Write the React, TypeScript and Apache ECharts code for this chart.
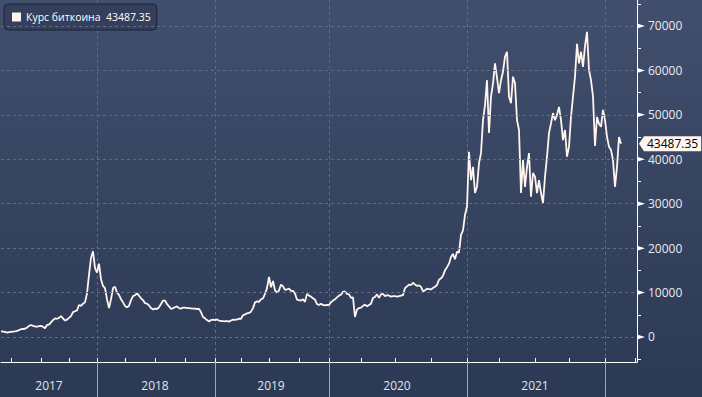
import React, { useEffect, useRef } from 'react';
import * as echarts from 'echarts';

const seriesName = 'Курс биткоина';
const yearLabels = ['2017', '2018', '2019', '2020', '2021'];
const yTickValues = [-5000, 0, 5000, 10000, 15000, 20000, 25000, 30000, 35000, 40000, 45000, 50000, 55000, 60000, 65000, 70000, 75000];
const yLabelValues = [0, 10000, 20000, 30000, 40000, 50000, 60000, 70000];

// sample groups (start dates of each group; last entry closes the final group)
const groupStarts = [
  '2017-03-01', '2017-04-01', '2017-07-01', '2017-10-01',
  '2018-01-01', '2018-04-01', '2018-07-01', '2018-10-01',
  '2019-01-01', '2019-04-01', '2019-07-01', '2019-10-01',
  '2020-01-01', '2020-04-01', '2020-07-01', '2020-10-01',
  '2021-01-01', '2021-04-01', '2021-07-01', '2021-10-01',
  '2022-01-01', '2022-04-01', '2022-04-05',
];

const m2017_03 = [1250, 1230, 1150, 1000, 1100];
const q2017_2 = [1150, 1200, 1250, 1350, 1550, 1750, 1800, 1850, 2100, 2500, 2700, 2500, 2400, 2300, 2450];
const q2017_3 = [2500, 2300, 1950, 2700, 2800, 3300, 3800, 4200, 4100, 4300, 4700, 4200, 3700, 3900];
const q2017_4 = [4300, 4700, 5600, 5800, 6000, 7200, 7000, 7500, 7800, 9800, 14000, 17800, 19300, 15500];
const q2018_1 = [14500, 16500, 13000, 11500, 11000, 8500, 6500, 8500, 11000, 11300, 10000, 9500, 8500, 7800];
const q2018_2 = [7000, 6700, 7000, 8300, 9200, 9400, 9800, 9300, 8700, 8300, 7600, 7500, 7100, 6500, 6200];
const q2018_3 = [6400, 6300, 6700, 7400, 8200, 8200, 7400, 6900, 6300, 6500, 6700, 6900, 6500, 6400, 6600];
const q2018_4 = [6600, 6500, 6500, 6450, 6400, 6400, 6300, 6350, 5600, 4500, 4200, 3800, 3500, 3800, 3900];
const q2019_1 = [3800, 3950, 3700, 3600, 3550, 3500, 3600, 3450, 3700, 3900, 3850, 3950, 4100];
const q2019_2 = [4100, 4900, 5100, 5300, 5400, 5700, 6500, 7800, 8000, 7900, 8500, 8700, 9700, 11000];
const q2019_3 = [13500, 11200, 12600, 10500, 10000, 10500, 11800, 11400, 10600, 10700, 10900, 10400, 10400, 9800, 8400];
const q2019_4 = [8300, 8200, 8500, 7900, 9700, 9300, 9100, 8700, 8400, 7400, 7200, 7500, 7200, 7100, 7200];
const q2020_1 = [7200, 7800, 8200, 8500, 8900, 9300, 9500, 10200, 10200, 9700, 9600, 8800, 8900, 4500, 6200, 6500];
const q2020_2 = [6600, 7000, 7300, 6900, 7200, 7500, 8800, 9000, 9600, 8800, 9600, 9700, 9200, 9400, 9300, 9100, 9200];
const q2020_3 = [9200, 9100, 9200, 9300, 9400, 11000, 11400, 11800, 11700, 12200, 11800, 11500, 11600, 11300, 10300, 10500, 10900, 10800];
const q2020_4 = [10700, 11000, 11300, 11700, 12900, 13200, 13800, 15000, 15700, 16500, 18000, 18700, 17500, 19200, 19000, 23000, 24000, 27500];
const q2021_1 = [29300, 41700, 35300, 38300, 32400, 33800, 39100, 41400, 48800, 52200, 57800, 45900, 54100, 57100, 61600, 58300];
const q2021_2 = [54900, 57800, 59700, 63100, 64200, 54100, 52600, 58600, 57100, 48800, 46600, 32400, 39800, 33800, 38300, 41400, 31600, 36900];
const q2021_3 = [36100, 32400, 35300, 32400, 30100, 36100, 40600, 45900, 48100, 50400, 48800, 50000, 51800, 48800, 44300, 46600, 40600];
const q2021_4 = [42800, 49600, 54100, 58600, 66000, 61600, 64200, 60800, 65500, 68700, 60100, 57800, 54100, 43000, 49500, 48000, 47300, 51100];
const q2022_1 = [48800, 45100, 42800, 42100, 39800, 33800, 38300, 45000, 43487.35, null, null, null, null, null, null];
const m2022_04 = [null, null];

const groups: (number | null)[][] = [
  m2017_03, q2017_2, q2017_3, q2017_4,
  q2018_1, q2018_2, q2018_3, q2018_4,
  q2019_1, q2019_2, q2019_3, q2019_4,
  q2020_1, q2020_2, q2020_3, q2020_4,
  q2021_1, q2021_2, q2021_3, q2021_4,
  q2022_1, m2022_04,
];

const categories: string[] = [];
const values: (number | null)[] = [];
groups.forEach((g, gi) => {
  const s = Date.parse(groupStarts[gi]);
  const e = Date.parse(groupStarts[gi + 1]);
  g.forEach((v, i) => {
    categories.push(new Date(s + ((e - s) * i) / g.length).toISOString().slice(0, 10));
    values.push(v);
  });
});

const lastValue = (() => {
  for (let i = values.length - 1; i >= 0; i--) if (values[i] != null) return values[i] as number;
  return 0;
})();

const yearOf = (s: string) => s.slice(0, 4);
const quarterOf = (s: string) => s.slice(0, 4) + Math.floor((+s.slice(5, 7) - 1) / 3);
const isYearStart = (i: number) => i > 0 && yearOf(categories[i]) !== yearOf(categories[i - 1]);
const isQuarterStart = (i: number) => i > 0 && quarterOf(categories[i]) !== quarterOf(categories[i - 1]);
const yearLabelIndex = new Set<number>();
yearLabels.forEach((y) => {
  let first = -1, last = -1;
  categories.forEach((c, i) => {
    if (yearOf(c) === y) { if (first < 0) first = i; last = i; }
  });
  if (first >= 0) yearLabelIndex.add(Math.round((first + last) / 2));
});

const svgUrl = (s: string) => 'data:image/svg+xml;charset=utf-8,' + encodeURIComponent(s);
const arrowRight = svgUrl('<svg xmlns="http://www.w3.org/2000/svg" width="8" height="5"><polygon points="0,0 8,2.5 0,5" fill="#ffffff"/></svg>');
const arrowLeft = svgUrl('<svg xmlns="http://www.w3.org/2000/svg" width="5" height="15"><polygon points="0,7.5 5,0 5,15" fill="#fff6f0"/></svg>');

const FONT = 'Open Sans';
const LINE_COLOR = '#fff4ee';

export default function App() {
  const ref = useRef<HTMLDivElement>(null);
  useEffect(() => {
    if (!ref.current) return;
    const chart = echarts.init(ref.current, undefined, { renderer: 'svg' });
    chart.setOption({
      animation: false,
      backgroundColor: 'transparent',
      textStyle: { fontFamily: FONT },
      grid: { left: 1, right: 65, top: 0, bottom: 35, containLabel: false, outerBoundsMode: 'none' },
      legend: {
        left: 4,
        top: 4,
        data: [{ name: seriesName, icon: 'rect' }],
        itemWidth: 9,
        itemHeight: 9,
        padding: [6, 6, 6, 8],
        backgroundColor: '#333f5c',
        borderColor: '#1b2233',
        borderWidth: 1,
        borderRadius: 4,
        selectedMode: false,
        textStyle: { color: '#ffffff', fontSize: 10.5, fontFamily: FONT, lineHeight: 14 },
        formatter: (n: string) => `${n}  ${lastValue}`,
      },
      xAxis: [
        {
          type: 'category',
          data: categories,
          boundaryGap: false,
          position: 'bottom',
          axisLine: { onZero: false, lineStyle: { color: '#ffffff', width: 1 } },
          axisTick: { interval: (i: number) => isYearStart(i), length: 35, lineStyle: { color: '#9ea6b6' } },
          axisLabel: {
            interval: (i: number) => yearLabelIndex.has(i),
            formatter: (v: string) => yearOf(v),
            margin: 17,
            color: '#e1e5ec',
            fontSize: 12,
            fontFamily: FONT,
          },
          splitLine: { show: true, interval: (i: number) => isYearStart(i), lineStyle: { color: '#5c6d8d', type: [3, 3], width: 1 } },
        },
        {
          type: 'category',
          data: categories,
          boundaryGap: false,
          position: 'bottom',
          axisLine: { show: false, onZero: false },
          axisTick: { inside: true, length: 4, interval: (i: number) => isQuarterStart(i), lineStyle: { color: '#ffffff' } },
          axisLabel: { show: false },
          splitLine: { show: false },
        },
      ],
      yAxis: {
        type: 'value',
        position: 'right',
        min: -5630,
        max: 75850,
        axisLine: { show: true, lineStyle: { color: '#ffffff', width: 1 } },
        axisTick: { show: true, customValues: yTickValues, length: 4, lineStyle: { color: '#ffffff' } },
        axisLabel: {
          customValues: yLabelValues,
          margin: 0,
          formatter: (v: number) => `{a| }{b|${v}}`,
          rich: {
            a: { width: 8, height: 5, verticalAlign: 'middle', backgroundColor: { image: arrowRight } },
            b: { color: '#e8ebf1', fontSize: 12, fontFamily: FONT, padding: [0, 0, 0, 3], verticalAlign: 'middle' },
          },
        },
        splitLine: { show: false },
      },
      series: [
        {
          name: seriesName,
          type: 'line',
          xAxisIndex: 0,
          yAxisIndex: 0,
          data: values,
          symbol: 'none',
          showSymbol: false,
          connectNulls: false,
          lineStyle: { color: LINE_COLOR, width: 1.8 },
          itemStyle: { color: LINE_COLOR },
          markLine: {
            silent: true,
            symbol: ['none', 'none'],
            animation: false,
            data: [
              ...yLabelValues.map((v) => ({
                yAxis: v,
                label: { show: false },
                lineStyle: { color: '#5c6d8d', type: [3, 3], width: 1 },
              })),
              {
                yAxis: lastValue,
                lineStyle: { color: 'rgba(0,0,0,0)', width: 1, opacity: 1 },
                label: {
                  show: true,
                  position: 'end',
                  distance: 2,
                  opacity: 1,
                  formatter: `{a| }{b|${lastValue}}`,
                  rich: {
                    a: { width: 5, height: 15, verticalAlign: 'middle', backgroundColor: { image: arrowLeft } },
                    b: {
                      backgroundColor: '#fff6f0',
                      color: '#000000',
                      fontSize: 12,
                      fontFamily: FONT,
                      height: 15,
                      lineHeight: 15,
                      padding: [0, 3, 0, 3],
                      verticalAlign: 'middle',
                    },
                  },
                },
              },
            ],
          },
        },
      ],
    });
    return () => chart.dispose();
  }, []);

  return (
    <div
      style={{
        position: 'fixed',
        left: 0,
        top: 0,
        width: 702,
        height: 397,
        background: 'linear-gradient(to bottom, #414e6d 0%, #36435f 55%, #2b3954 100%)',
      }}
    >
      <div ref={ref} style={{ width: 702, height: 397 }} />
    </div>
  );
}
